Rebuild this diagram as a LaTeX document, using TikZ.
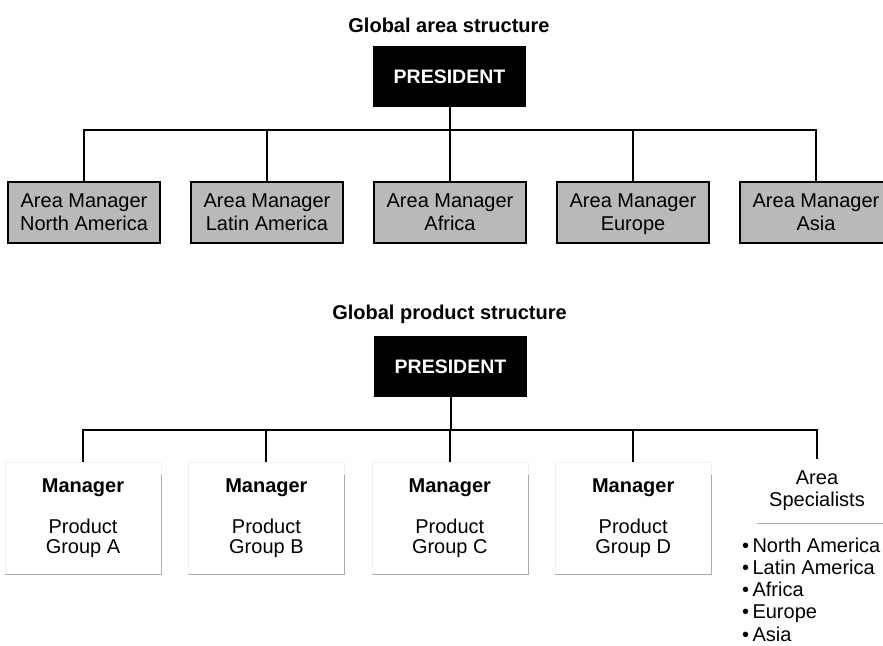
\documentclass[tikz,border=0pt]{standalone}
\usepackage{fontspec}
\setmainfont{Liberation Sans}
\usetikzlibrary{positioning}
\tikzset{
    charttitle/.style={font=\fontsize{20}{22}\selectfont\bfseries},
    boss/.style={
        fill=black, text=white,
        minimum width=153pt, minimum height=61pt,
        font=\fontsize{19.5}{21}\selectfont\bfseries
    },
    areabox/.style={
        draw, line width=1.5pt, fill=gray!55,
        minimum width=152pt, minimum height=61pt,
        inner sep=0pt, text depth=0pt,
        align=center, font=\fontsize{20}{23}\selectfont
    },
    prodbox/.style={
        draw=gray!10, line width=0.4pt,
        minimum width=156pt, minimum height=112pt,
        inner sep=0pt, align=center,
        font=\fontsize{20}{20}\selectfont
    },
    shadowline/.style={draw=gray!65, line width=1pt},
    link/.style={line width=2pt}
}

\begin{document}
\begin{tikzpicture}[x=1pt, y=-1pt]
\useasboundingbox (0,0) rectangle (883,645);

% ===============================================================
% ==== Global area structure ====
% ===============================================================
\node[charttitle] (areatitle) at (449,25) {Global area structure};
\node[boss] (pres1) at (449.5,76.5) {PRESIDENT};

\node[areabox] (amNA) at (84,212.5) {Area Manager\\North America};
\node[areabox, right=29.5pt of amNA] (amLA) {Area Manager\\Latin America};
\node[areabox, right=29.5pt of amLA] (amAF) {Area Manager\\Africa};
\node[areabox, right=29.5pt of amAF] (amEU) {Area Manager\\Europe};
\node[areabox, right=29.5pt of amEU] (amAS) {Area Manager\\Asia};

% bus line
\coordinate (bus1) at (0,130);
\draw[link] (pres1.south) -- (pres1.south |- bus1);
\draw[link] (amNA.north) -- (amNA.north |- bus1) -- (amAS.north |- bus1) -- (amAS.north);
\draw[link] (amLA.north |- bus1) -- (amLA.north);
\draw[link] (amAF.north |- bus1) -- (amAF.north);
\draw[link] (amEU.north |- bus1) -- (amEU.north);

% ===============================================================
% ==== Global product structure ====
% ===============================================================
\node[charttitle] (prodtitle) at (449.5,314) {Global product structure};
\node[boss] (pres2) at (450.5,366.5) {PRESIDENT};

\node[prodbox] (pgA) at (83,518) {\textbf{Manager}\\[21pt]Product\\Group A};
\node[prodbox, right=27pt of pgA] (pgB) {\textbf{Manager}\\[21pt]Product\\Group B};
\node[prodbox, right=27pt of pgB] (pgC) {\textbf{Manager}\\[21pt]Product\\Group C};
\node[prodbox, right=27pt of pgC] (pgD) {\textbf{Manager}\\[21pt]Product\\Group D};

% shadow edges
\draw[shadowline] ([yshift=-13pt]pgA.north east) -- (pgA.south east) -- (pgA.south west);
\draw[shadowline] ([yshift=-13pt]pgB.north east) -- (pgB.south east) -- (pgB.south west);
\draw[shadowline] ([yshift=-13pt]pgC.north east) -- (pgC.south east) -- (pgC.south west);
\draw[shadowline] ([yshift=-13pt]pgD.north east) -- (pgD.south east) -- (pgD.south west);

% Area specialists
\node[align=center, font=\fontsize{20}{22}\selectfont, inner sep=0pt] (spec) at (817,491) {Area\\Specialists};
\coordinate (sepL) at (757,523);
\coordinate (sepR) at (883,523);
\draw[shadowline] (sepL) -- (sepR);

\node[align=left, anchor=north west, inner sep=0pt,
      font=\fontsize{20}{22.2}\selectfont] (regions) at (742,537.5)
      {\textbullet\,North America\\\textbullet\,Latin America\\\textbullet\,Africa\\\textbullet\,Europe\\\textbullet\,Asia};

% bus line
\coordinate (bus2) at (0,430);
\draw[link] (pres2.south) -- (pres2.south |- bus2);
\draw[link] (pgA.north) -- (pgA.north |- bus2) -- (spec.north |- bus2) -- ([yshift=12pt]spec.north);
\draw[link] (pgB.north |- bus2) -- (pgB.north);
\draw[link] (pgC.north |- bus2) -- (pgC.north);
\draw[link] (pgD.north |- bus2) -- (pgD.north);

\end{tikzpicture}
\end{document}
